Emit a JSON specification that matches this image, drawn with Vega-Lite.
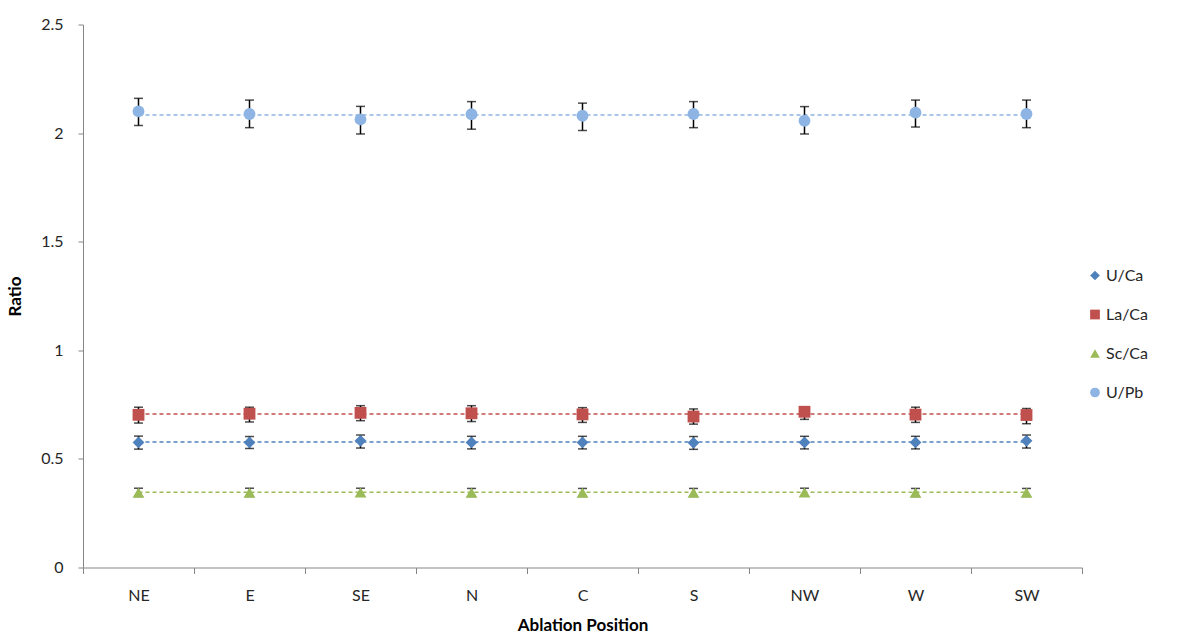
{
  "$schema": "https://vega.github.io/schema/vega-lite/v6.json",
  "width": 999,
  "height": 543,
  "autosize": {"type": "none"},
  "padding": {"left": 83, "top": 24.5, "right": 98, "bottom": 69.5},
  "background": "white",
  "config": {
    "view": {"stroke": null},
    "font": "Lato",
    "axis": {"grid": false, "domainColor": "#868686", "tickColor": "#868686", "labelColor": "#262626", "labelFontSize": 16, "titleFontSize": 17, "titleFontWeight": "bold", "titleColor": "#000000", "labelFont": "Lato", "titleFont": "Lato"},
    "legend": {"title": null, "orient": "none", "legendX": 1004, "legendY": 243, "padding": 0, "rowPadding": 23, "labelFontSize": 16, "labelColor": "#262626", "symbolSize": 95, "labelOffset": 3, "labelFont": "Lato", "symbolStrokeWidth": 0, "symbolDash": []}
  },
  "data": {
    "values": [
      {"pos": "NE", "series": "U/Ca", "value": 0.576, "lo": 0.545, "hi": 0.605, "trend": 0.578},
      {"pos": "E", "series": "U/Ca", "value": 0.576, "lo": 0.548, "hi": 0.603, "trend": 0.578},
      {"pos": "SE", "series": "U/Ca", "value": 0.583, "lo": 0.550, "hi": 0.610, "trend": 0.578},
      {"pos": "N", "series": "U/Ca", "value": 0.576, "lo": 0.546, "hi": 0.604, "trend": 0.578},
      {"pos": "C", "series": "U/Ca", "value": 0.576, "lo": 0.546, "hi": 0.604, "trend": 0.578},
      {"pos": "S", "series": "U/Ca", "value": 0.574, "lo": 0.544, "hi": 0.603, "trend": 0.578},
      {"pos": "NW", "series": "U/Ca", "value": 0.576, "lo": 0.546, "hi": 0.604, "trend": 0.578},
      {"pos": "W", "series": "U/Ca", "value": 0.576, "lo": 0.546, "hi": 0.604, "trend": 0.578},
      {"pos": "SW", "series": "U/Ca", "value": 0.583, "lo": 0.550, "hi": 0.610, "trend": 0.578},
      {"pos": "NE", "series": "La/Ca", "value": 0.703, "lo": 0.665, "hi": 0.738, "trend": 0.707},
      {"pos": "E", "series": "La/Ca", "value": 0.708, "lo": 0.670, "hi": 0.738, "trend": 0.707},
      {"pos": "SE", "series": "La/Ca", "value": 0.712, "lo": 0.676, "hi": 0.745, "trend": 0.707},
      {"pos": "N", "series": "La/Ca", "value": 0.710, "lo": 0.672, "hi": 0.745, "trend": 0.707},
      {"pos": "C", "series": "La/Ca", "value": 0.705, "lo": 0.668, "hi": 0.736, "trend": 0.707},
      {"pos": "S", "series": "La/Ca", "value": 0.695, "lo": 0.660, "hi": 0.730, "trend": 0.707},
      {"pos": "NW", "series": "La/Ca", "value": 0.717, "lo": 0.682, "hi": 0.740, "trend": 0.707},
      {"pos": "W", "series": "La/Ca", "value": 0.704, "lo": 0.668, "hi": 0.738, "trend": 0.707},
      {"pos": "SW", "series": "La/Ca", "value": 0.702, "lo": 0.662, "hi": 0.732, "trend": 0.707},
      {"pos": "NE", "series": "Sc/Ca", "value": 0.345, "lo": 0.327, "hi": 0.365, "trend": 0.346},
      {"pos": "E", "series": "Sc/Ca", "value": 0.345, "lo": 0.327, "hi": 0.365, "trend": 0.346},
      {"pos": "SE", "series": "Sc/Ca", "value": 0.346, "lo": 0.328, "hi": 0.365, "trend": 0.346},
      {"pos": "N", "series": "Sc/Ca", "value": 0.345, "lo": 0.327, "hi": 0.364, "trend": 0.346},
      {"pos": "C", "series": "Sc/Ca", "value": 0.345, "lo": 0.327, "hi": 0.364, "trend": 0.346},
      {"pos": "S", "series": "Sc/Ca", "value": 0.345, "lo": 0.327, "hi": 0.364, "trend": 0.346},
      {"pos": "NW", "series": "Sc/Ca", "value": 0.346, "lo": 0.328, "hi": 0.365, "trend": 0.346},
      {"pos": "W", "series": "Sc/Ca", "value": 0.345, "lo": 0.327, "hi": 0.364, "trend": 0.346},
      {"pos": "SW", "series": "Sc/Ca", "value": 0.345, "lo": 0.327, "hi": 0.364, "trend": 0.346},
      {"pos": "NE", "series": "U/Pb", "value": 2.100, "lo": 2.035, "hi": 2.160, "trend": 2.083},
      {"pos": "E", "series": "U/Pb", "value": 2.088, "lo": 2.025, "hi": 2.152, "trend": 2.083},
      {"pos": "SE", "series": "U/Pb", "value": 2.063, "lo": 1.996, "hi": 2.123, "trend": 2.083},
      {"pos": "N", "series": "U/Pb", "value": 2.087, "lo": 2.018, "hi": 2.145, "trend": 2.083},
      {"pos": "C", "series": "U/Pb", "value": 2.080, "lo": 2.012, "hi": 2.138, "trend": 2.083},
      {"pos": "S", "series": "U/Pb", "value": 2.088, "lo": 2.025, "hi": 2.145, "trend": 2.083},
      {"pos": "NW", "series": "U/Pb", "value": 2.057, "lo": 1.996, "hi": 2.122, "trend": 2.083},
      {"pos": "W", "series": "U/Pb", "value": 2.094, "lo": 2.028, "hi": 2.152, "trend": 2.083},
      {"pos": "SW", "series": "U/Pb", "value": 2.088, "lo": 2.025, "hi": 2.152, "trend": 2.083}
    ]
  },
  "encoding": {
    "x": {
      "field": "pos", "type": "nominal", "sort": ["NE", "E", "SE", "N", "C", "S", "NW", "W", "SW"],
      "scale": {"type": "band", "paddingInner": 0, "paddingOuter": 0},
      "axis": {"title": "Ablation Position", "labelAngle": 0, "tickBand": "extent", "tickSize": 6, "labelPadding": 14, "titlePadding": 14}
    }
  },
  "layer": [
    {
      "mark": {"type": "line", "strokeDash": [4, 3], "strokeWidth": 1.5},
      "encoding": {
        "y": {"field": "trend", "type": "quantitative", "scale": {"domain": [0, 2.5], "nice": false}, "axis": {"title": "Ratio", "values": [0, 0.5, 1, 1.5, 2, 2.5], "format": "~g", "tickSize": 5, "labelPadding": 15, "titlePadding": 16}},
        "color": {"field": "series", "type": "nominal", "scale": {"domain": ["U/Ca", "La/Ca", "Sc/Ca", "U/Pb"], "range": ["#4F81BD", "#C0504D", "#9BBB59", "#8DB4E2"]}}
      }
    },
    {
      "mark": {"type": "rule", "color": "#000000", "strokeWidth": 1.5},
      "encoding": {
        "y": {"field": "lo", "type": "quantitative"},
        "y2": {"field": "hi"},
        "detail": {"field": "series"}
      }
    },
    {
      "mark": {"type": "tick", "color": "#000000", "size": 9, "thickness": 1.5},
      "encoding": {"y": {"field": "lo", "type": "quantitative"}, "detail": {"field": "series"}}
    },
    {
      "mark": {"type": "tick", "color": "#000000", "size": 9, "thickness": 1.5},
      "encoding": {"y": {"field": "hi", "type": "quantitative"}, "detail": {"field": "series"}}
    },
    {
      "mark": {"type": "point", "filled": true, "opacity": 1, "size": 140},
      "encoding": {
        "y": {"field": "value", "type": "quantitative"},
        "color": {"field": "series", "type": "nominal"},
        "shape": {"field": "series", "type": "nominal", "scale": {"domain": ["U/Ca", "La/Ca", "Sc/Ca", "U/Pb"], "range": ["diamond", "square", "triangle-up", "circle"]}}
      }
    }
  ]
}
